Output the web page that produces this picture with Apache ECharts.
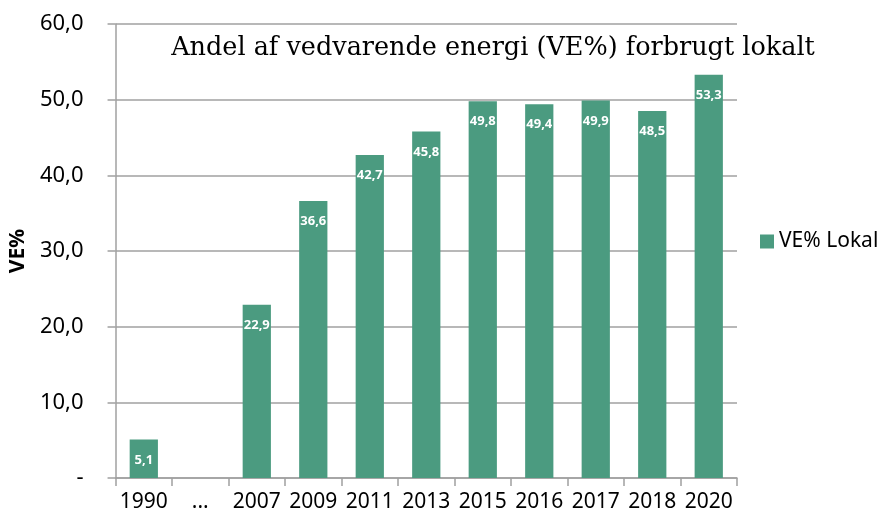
<!DOCTYPE html>
<html>
<head>
<meta charset="utf-8">
<script src="https://cdn.jsdelivr.net/npm/echarts@6/dist/echarts.min.js"></script>
<style>
html, body { margin: 0; padding: 0; background: #fff; }
#chart { width: 879px; height: 523px; }
</style>
</head>
<body>
<div id="chart"></div>
<script>
var categories = ['1990', '...', '2007', '2009', '2011', '2013', '2015', '2016', '2017', '2018', '2020'];
var veLokal = [5.1, null, 22.9, 36.6, 42.7, 45.8, 49.8, 49.4, 49.9, 48.5, 53.3];
var yTicks = [0, 10, 20, 30, 40, 50, 60];

var myChart = echarts.init(document.getElementById('chart'));

function fmt(v) {
    if (v === 0) return '-';
    return v.toFixed(1).replace('.', ',');
}

var option = {
    animation: false,
    title: {
        text: 'Andel af vedvarende energi (VE%) forbrugt lokalt',
        left: 488,
        textAlign: 'center',
        top: 30,
        textStyle: {
            fontFamily: 'DejaVu Serif',
            fontWeight: 'normal',
            fontSize: 25.5,
            color: '#000'
        }
    },
    legend: {
        orient: 'vertical',
        left: 755,
        top: 226,
        itemWidth: 14,
        itemHeight: 14,
        itemGap: 6,
        textStyle: { fontFamily: 'Noto Sans', fontSize: 21, color: '#000' },
        data: [{ name: 'VE% Lokal', icon: 'rect' }]
    },
    grid: { left: 115, right: 142, top: 24, bottom: 45 },
    xAxis: {
        type: 'category',
        data: categories,
        axisLine: { lineStyle: { color: '#a0a0a0', width: 1.5 } },
        axisTick: { show: true, length: 8, lineStyle: { color: '#a0a0a0', width: 1.5 } },
        axisLabel: { fontFamily: 'Noto Sans', fontSize: 21, color: '#000', margin: 14, interval: 0 }
    },
    yAxis: {
        type: 'value',
        min: yTicks[0],
        max: yTicks[yTicks.length - 1],
        interval: 10,
        name: 'VE%',
        nameLocation: 'middle',
        nameGap: 86,
        nameTextStyle: { fontFamily: 'Noto Sans', fontWeight: 'bold', fontSize: 21, color: '#000' },
        axisLine: { show: true, lineStyle: { color: '#a0a0a0', width: 1.5 } },
        axisTick: { show: true, length: 8, lineStyle: { color: '#a0a0a0', width: 1.5 } },
        splitLine: { lineStyle: { color: '#a0a0a0', width: 1.5 } },
        axisLabel: {
            fontFamily: 'Noto Sans', fontSize: 22, color: '#000', margin: 32,
            formatter: fmt
        }
    },
    series: [{
        name: 'VE% Lokal',
        type: 'bar',
        data: veLokal,
        barWidth: '50%',
        itemStyle: { color: '#4b9b80' },
        label: {
            show: true,
            position: 'insideTop',
            distance: 14,
            color: '#fff',
            fontWeight: 'bold',
            fontFamily: 'Noto Sans',
            fontSize: 13,
            formatter: function (p) { return fmt(p.value); }
        }
    }]
};

myChart.setOption(option);
</script>
</body>
</html>
